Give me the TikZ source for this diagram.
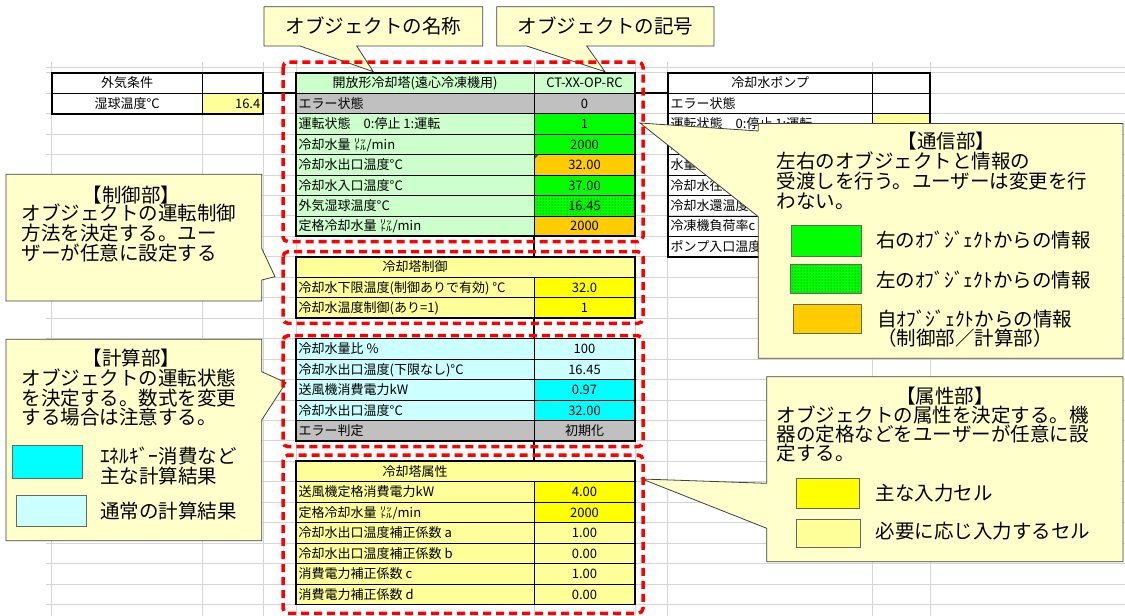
\documentclass[tikz,border=0pt]{standalone}
\usepackage{fontspec}
\setmainfont{Noto Sans CJK JP}
\usetikzlibrary{patterns}
\definecolor{cgray}{HTML}{C0C0C0}
\definecolor{clgreen}{HTML}{CCFFCC}
\definecolor{cgreen}{HTML}{00FF00}
\definecolor{corange}{HTML}{FFCC00}
\definecolor{clyellow}{HTML}{FFFF99}
\definecolor{cyellow}{HTML}{FFFF00}
\definecolor{clcyan}{HTML}{CCFFFF}
\definecolor{ccyan}{HTML}{00FFFF}
\definecolor{coyel}{HTML}{FFFFCC}
\definecolor{gridgray}{HTML}{D4D4D4}
\newcommand\tbfont{\fontsize{13}{14}\selectfont}
\newcommand\cofont{\fontsize{19.5}{20}\selectfont}
\newcommand\ry[1]{72.7+20.45*(#1)}
\begin{document}
\begin{tikzpicture}[x=1pt,y=-1pt,
  tb/.style={font=\tbfont,inner sep=0pt,text height=11.4pt,text depth=1.6pt},
  lbl/.style={tb,anchor=west},
  val/.style={tb,anchor=center},
  co/.style={fill=coyel,draw=black!75,line width=0.8pt},
  cotxt/.style={font=\cofont,inner sep=0pt,text height=17pt,text depth=2.6pt,anchor=west},
  cotitle/.style={cotxt,anchor=center},
  gridln/.style={draw=gridgray,line width=0.8pt},
  thick border/.style={line width=1.8pt},
  thin border/.style={line width=0.7pt},
  zonebox/.style={draw=red,line width=3.5pt,dash pattern=on 8pt off 5pt,rounded corners=5pt},
  legendbox/.style={draw=black!60,line width=0.8pt}]
\fill[white] (0,0) rectangle (1125,616);
\useasboundingbox (0,0) rectangle (1125,616);
% sheet grid
\draw[gridln] (46,67.5) -- (1125,67.5);
\foreach \k in {0,...,26} \draw[gridln] (46,{\ry{\k}}) -- (1125,{\ry{\k}});
\foreach \x in {51.7,202.7,263.3,296,534,635,667.7,872.7,930} \draw[gridln] (\x,62) -- (\x,616);
% outside air
\fill[clyellow] (202.7,{\ry{1}}) rectangle (263.3,{\ry{2}});
\draw[thin border] (51.7,{\ry{1}}) -- (263.3,{\ry{1}}) (202.7,{\ry{0}}) -- (202.7,{\ry{2}});
\draw[thick border] (51.7,{\ry{0}}) rectangle (263.3,{\ry{2}});
\node[val] (gaiki) at (127.2,{\ry{0.5}}) {外気条件};
\node[val] (wb) at (127.2,{\ry{1.5}}) {湿球温度°C};
\node[tb,anchor=east] (wbv) at (260.5,{\ry{1.5}}) {16.4};
% cooling water pump
\fill[clyellow] (872.7,{\ry{2}}) rectangle (930,{\ry{3}});
\foreach \k in {1,...,8} \draw[thin border] (667.7,{\ry{\k}}) -- (930,{\ry{\k}});
\draw[thin border] (872.7,{\ry{0}}) -- (872.7,{\ry{9}});
\draw[thick border] (667.7,{\ry{0}}) rectangle (930,{\ry{9}});
\node[val] (pump) at (770.2,{\ry{0.5}}) {冷却水ポンプ};
\foreach \k/\t in {1/エラー状態, 2/運転状態　0:停止 1:運転, 3/運転ﾓｰﾄﾞ　0:停止 1:運転,
  4/{水量 ㍑/min}, 5/冷却水往温度°C, 6/冷却水還温度°C, 7/冷凍機負荷率c, 8/ポンプ入口温度°C}
  \node[lbl] (p\k) at (670.5,{\ry{\k+0.5}}) {\t};
% cooling tower
\fill[clgreen] (296,{\ry{0}}) rectangle (635,{\ry{1}});
\fill[clyellow] (296,{\ry{9}}) rectangle (635,{\ry{10}});
\fill[clyellow] (296,{\ry{19}}) rectangle (635,{\ry{20}});
\node[val] (name) at (415,{\ry{0.5}}) {開放形冷却塔(遠心冷凍機用)};
\node[val] (sym) at (584.5,{\ry{0.5}}) {CT-XX-OP-RC};
\node[val] (ctlhead) at (415,{\ry{9.5}}) {冷却塔制御};
\node[val] (attrhead) at (415,{\ry{19.5}}) {冷却塔属性};
\foreach \k/\lf/\vf/\lt/\vt in {
  1/cgray/cgray/エラー状態/0,
  2/clgreen/cgreen/運転状態　0:停止 1:運転/1,
  3/clgreen/cgreen/{冷却水量 ㍑/min}/2000,
  4/clgreen/corange/冷却水出口温度°C/32.00,
  5/clgreen/cgreen/冷却水入口温度°C/37.00,
  6/clgreen/cgreen/外気湿球温度°C/16.45,
  7/clgreen/corange/{定格冷却水量 ㍑/min}/2000,
  10/clyellow/cyellow/冷却水下限温度(制御ありで有効) °C/32.0,
  11/clyellow/cyellow/冷却水温度制御(あり=1)/1,
  13/clcyan/clcyan/冷却水量比 \%/100,
  14/clcyan/clcyan/冷却水出口温度(下限なし)°C/16.45,
  15/clcyan/ccyan/送風機消費電力kW/0.97,
  16/clcyan/ccyan/冷却水出口温度°C/32.00,
  17/cgray/cgray/エラー判定/初期化,
  20/clyellow/cyellow/送風機定格消費電力kW/4.00,
  21/clyellow/cyellow/{定格冷却水量 ㍑/min}/2000,
  22/clyellow/clyellow/冷却水出口温度補正係数 a/1.00,
  23/clyellow/clyellow/冷却水出口温度補正係数 b/0.00,
  24/clyellow/clyellow/消費電力補正係数 c/1.00,
  25/clyellow/clyellow/消費電力補正係数 d/0.00}
{
  \fill[\lf] (296,{\ry{\k}}) rectangle (534,{\ry{\k+1}});
  \fill[\vf] (534,{\ry{\k}}) rectangle (635,{\ry{\k+1}});
  \node[lbl] (l\k) at (298.5,{\ry{\k+0.5}}) {\lt};
  \node[val] (v\k) at (584.5,{\ry{\k+0.5}}) {\vt};
}
\fill[pattern=dots,pattern color=black!80] (534,{\ry{6}}) rectangle (635,{\ry{7}});
\fill[black!45!green] (534.5,{\ry{4}+0.5}) -- ++(4,0) -- ++(-4,4) -- cycle;
\foreach \a/\b/\s in {0/8/0, 9/12/10, 13/18/13, 19/26/20} {
  \foreach \k in {\a,...,\b} \draw[thin border] (296,{\ry{\k}}) -- (635,{\ry{\k}});
  \draw[thin border] (534,{\ry{\s}}) -- (534,{\ry{\b}});
  \draw[thick border] (296,{\ry{\a}}) rectangle (635,{\ry{\b}});
}
% links between objects
\draw[thick border] (263.3,{\ry{1}}) -- (296,{\ry{1}}) (635,{\ry{1}}) -- (667.7,{\ry{1}});
\foreach \a/\b in {8/9, 12/13, 18/19} \draw[thick border] (534,{\ry{\a}}) -- (534,{\ry{\b}});
% callouts: name, symbol
\draw[co] (264,6.7) -- (482.7,6.7) -- (482.7,46) -- (356.7,46) -- (373.3,71.7) -- (300,46) -- (264,46) -- cycle;
\node[cotitle] (nameco) at (373.3,26.3) {オブジェクトの名称};
\draw[co] (496.7,6.7) -- (714,6.7) -- (714,46) -- (586.7,46) -- (605,71.7) -- (526.7,46) -- (496.7,46) -- cycle;
\node[cotitle] (symco) at (605.3,26.3) {オブジェクトの記号};
% control part
\draw[co] (6,174.3) -- (261.7,174.3) -- (261.7,248.3) -- (275,276.7) -- (261.7,280) -- (261.7,301) -- (6,301) -- cycle;
\node[cotitle] (ctlt) at (131.7,195) {【制御部】};
\foreach \t [count=\i from 0] in {オブジェクトの運転制御, 方法を決定する。ユー, ザーが任意に設定する}
  \node[cotxt] (ctl\i) at (21.7,213.5+19.8*\i) {\t};
% calculation part
\draw[co] (6,339.3) -- (261.7,339.3) -- (261.7,371.7) -- (286,382.7) -- (261.7,420) -- (261.7,540.7) -- (6,540.7) -- cycle;
\node[cotitle] (calct) at (131.7,358.3) {【計算部】};
\foreach \t [count=\i from 0] in {オブジェクトの運転状態, を決定する。数式を変更, する場合は注意する。}
  \node[cotxt] (calc\i) at (21.7,378.3+19.5*\i) {\t};
\fill[ccyan,legendbox] (12.7,445) rectangle (82.7,478.3);
\node[cotxt] (cyant1) at (100,456.7) {ｴﾈﾙｷﾞｰ消費など};
\node[cotxt] (cyant2) at (100,476.7) {主な計算結果};
\fill[clcyan,legendbox] (16,495) rectangle (86,526.7);
\node[cotxt] (lcyant) at (100,511.7) {通常の計算結果};
% communication part
\draw[co] (758.3,123.5) -- (1123,123.5) -- (1123,358.3) -- (758.3,358.3) -- (758.3,216.7) -- (640,123) -- (758.3,131) -- cycle;
\node[cotitle] (comt) at (946.7,141.7) {【通信部】};
\foreach \t [count=\i from 0] in {左右のオブジェクトと情報の, 受渡しを行う。ユーザーは変更を行, わない。}
  \node[cotxt] (com\i) at (776.7,161.7+20*\i) {\t};
\fill[cgreen,legendbox] (791.7,225) rectangle (861,256.7);
\node[cotxt] (rightt) at (876,240.7) {右のｵﾌﾞｼﾞｪｸﾄからの情報};
\fill[cgreen] (790.7,264) rectangle (861,293.3);
\fill[pattern=dots,pattern color=black!80,legendbox] (790.7,264) rectangle (861,293.3);
\node[cotxt] (leftt) at (876,280) {左のｵﾌﾞｼﾞｪｸﾄからの情報};
\fill[corange,legendbox] (793,304.3) rectangle (861,333.3);
\node[cotxt] (selft1) at (877,319) {自ｵﾌﾞｼﾞｪｸﾄからの情報};
\node[cotxt] (selft2) at (877,338.3) {（制御部／計算部）};
% attribute part
\draw[co] (766.7,376.7) -- (1123,376.7) -- (1123,561.7) -- (766.7,561.7) -- (766.7,528.3) -- (642,479) -- (766.7,483.3) -- cycle;
\node[cotitle] (attrt) at (945,396.7) {【属性部】};
\foreach \t [count=\i from 0] in {オブジェクトの属性を決定する。機, 器の定格などをユーザーが任意に設, 定する。}
  \node[cotxt] (attr\i) at (776.7,415+19.2*\i) {\t};
\fill[cyellow,legendbox] (796,478.3) rectangle (859,508.3);
\node[cotxt] (yelt) at (875.7,493.3) {主な入力セル};
\fill[clyellow,legendbox] (796,519.3) rectangle (860,547.7);
\node[cotxt] (lyelt) at (875.7,531.7) {必要に応じ入力するセル};
% object parts
\draw[zonebox] (283,62) rectangle (643,241.7);
\draw[zonebox] (283,251.7) rectangle (643,323.3);
\draw[zonebox] (283,335.7) rectangle (643,446.7);
\draw[zonebox] (283,455) rectangle (643,613.3);
\end{tikzpicture}
\end{document}
